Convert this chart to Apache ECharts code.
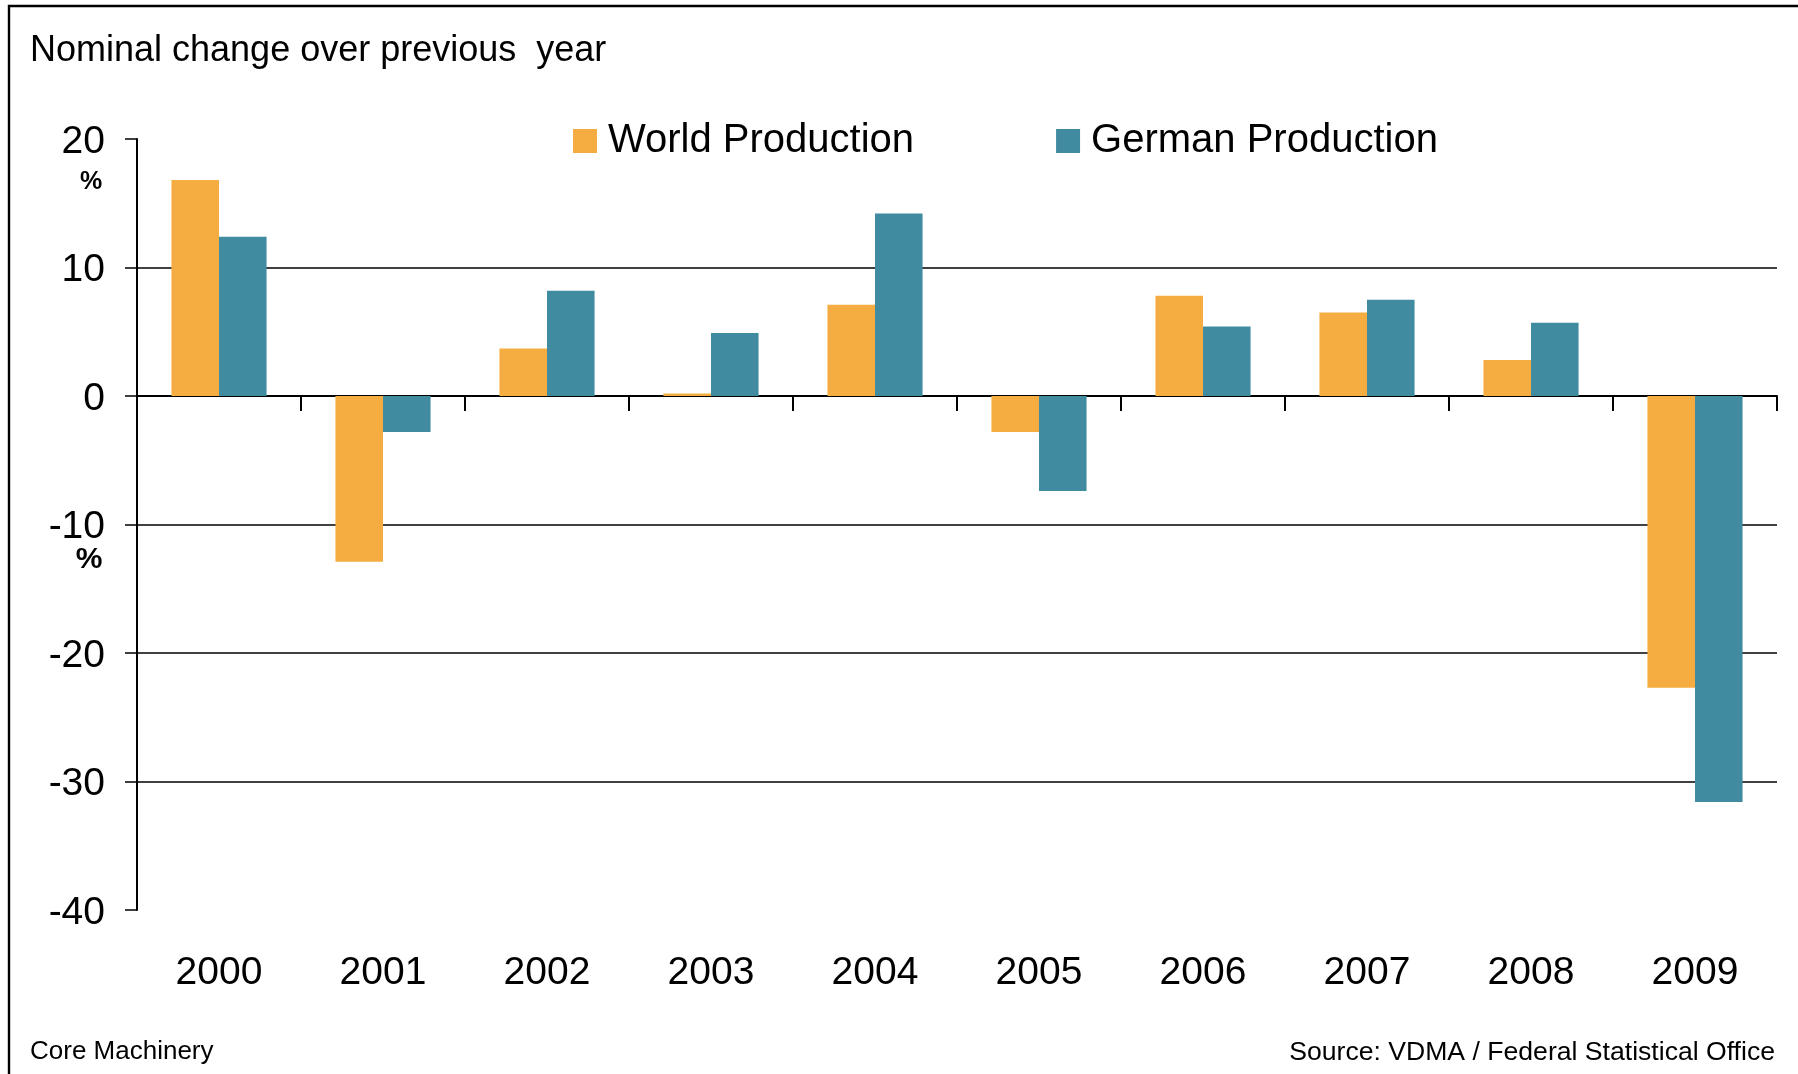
<!DOCTYPE html>
<html lang="en">
<head>
	<meta charset="UTF-8">
	<title>Core Machinery</title>
	<style>
		html, body { margin: 0; padding: 0; background: #fff; }
		#box {
			width: 1798px;
			height: 1074px;
		}
	</style>
</head>
<body>

	<div id="box"></div>

	<script src="https://cdn.jsdelivr.net/npm/echarts@6/dist/echarts.min.js"></script>
	<script>
		// data
		var years = ['2000', '2001', '2002', '2003', '2004', '2005', '2006', '2007', '2008', '2009'];
		var worldProduction = [16.8, -12.9, 3.7, 0.2, 7.1, -2.8, 7.8, 6.5, 2.8, -22.7];
		var germanProduction = [12.4, -2.8, 8.2, 4.9, 14.2, -7.4, 5.4, 7.5, 5.7, -31.6];
		var seriesNames = ['World Production', 'German Production'];
		var yTicks = { min: -40, max: 20, step: 10 };

		var font = '"Liberation Sans", Arial, sans-serif';
		var orange = '#F5AD41';
		var teal = '#408B9F';

		var myChart = echarts.init(document.getElementById('box'));

		var option = {
			animation: false,
			backgroundColor: '#fff',
			textStyle: { fontFamily: font, color: '#000' },
			grid: { left: 137, right: 21, top: 139, bottom: 164 },
			legend: {
				data: seriesNames,
				left: 568,
				top: 116,
				icon: 'rect',
				itemWidth: 24,
				itemHeight: 24,
				itemGap: 142,
				textStyle: { fontFamily: font, fontSize: 40, color: '#000', lineHeight: 40, padding: [0, 0, 0, 6] }
			},
			xAxis: [{
				// axis line at zero with ticks between years
				type: 'category',
				data: years,
				position: 'bottom',
				axisLine: { onZero: true, lineStyle: { color: '#000', width: 2 } },
				axisTick: { show: true, length: 15, lineStyle: { color: '#000', width: 2 } },
				axisLabel: { show: false },
				splitLine: { show: false }
			}, {
				// year labels at the bottom
				type: 'category',
				data: years,
				position: 'bottom',
				axisLine: { show: false, onZero: false },
				axisTick: { show: false },
				axisLabel: { margin: 63, verticalAlign: 'middle', fontSize: 39, color: '#000', fontFamily: font },
				splitLine: { show: false }
			}],
			yAxis: {
				type: 'value',
				min: yTicks.min,
				max: yTicks.max,
				interval: yTicks.step,
				axisLine: { show: true, onZero: false, lineStyle: { color: '#000', width: 2 } },
				axisTick: { show: true, length: 12, lineStyle: { color: '#000', width: 1.5 } },
				axisLabel: {
					margin: 32,
					formatter: '{v|{value}}',
					rich: { v: { fontSize: 39, color: '#000', fontFamily: font, padding: [6, 0, 0, 0] } }
				},
				splitLine: { show: true, showMinLine: false, showMaxLine: false, lineStyle: { color: '#000', width: 1.5 } }
			},
			series: [{
				name: seriesNames[0],
				type: 'bar',
				xAxisIndex: 0,
				data: worldProduction,
				itemStyle: { color: orange },
				barGap: '0%',
				barCategoryGap: '42%'
			}, {
				name: seriesNames[1],
				type: 'bar',
				xAxisIndex: 0,
				data: germanProduction,
				itemStyle: { color: teal },
				barGap: '0%',
				barCategoryGap: '42%'
			}],
			graphic: [
				// frame (top and left edges visible)
				{ type: 'rect', shape: { x: 9, y: 6, width: 1820, height: 1100 }, style: { fill: 'none', stroke: '#000', lineWidth: 2.4 }, silent: true },
				{ type: 'text', left: 30, top: 33, style: { text: 'Nominal change over previous  year', font: '36px ' + font, fill: '#000' } },
				{ type: 'text', x: 91, y: 182, style: { text: '%', font: 'bold 25px ' + font, fill: '#000', align: 'center', verticalAlign: 'middle' } },
				{ type: 'text', x: 89, y: 560, style: { text: '%', font: 'bold 30px ' + font, fill: '#000', align: 'center', verticalAlign: 'middle' } },
				{ type: 'text', x: 30, y: 1052, style: { text: 'Core Machinery', font: '26px ' + font, fill: '#000', verticalAlign: 'middle' } },
				{ type: 'text', x: 1775, y: 1053, style: { text: 'Source: VDMA / Federal Statistical Office', font: '26.6px ' + font, fill: '#000', align: 'right', verticalAlign: 'middle' } }
			]
		};

		myChart.setOption(option);
	</script>
</body>
</html>
